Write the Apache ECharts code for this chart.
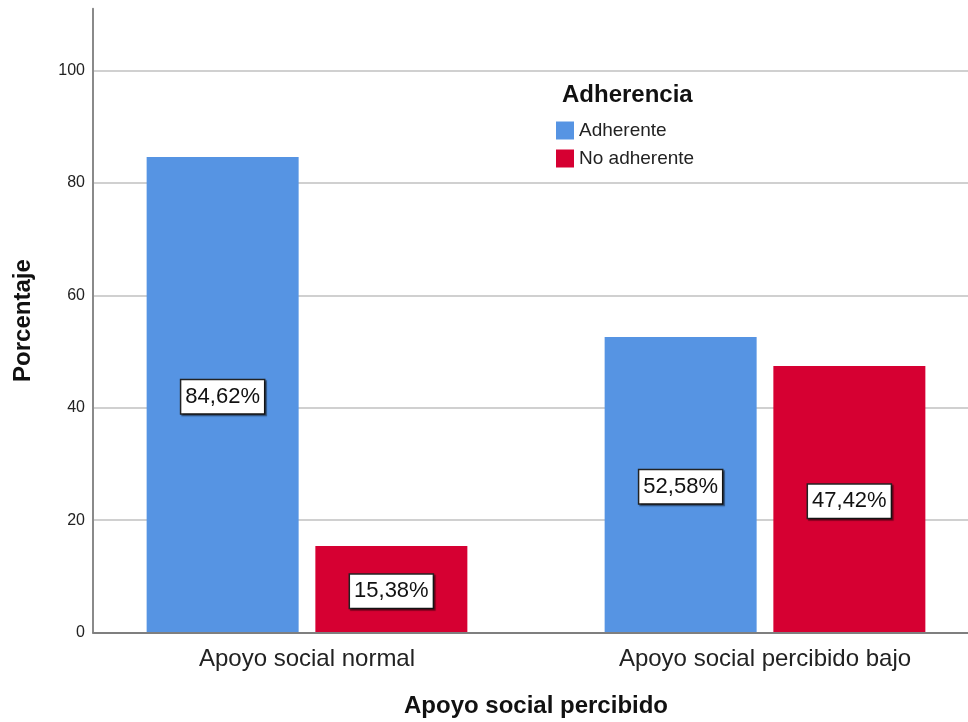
<!DOCTYPE html>
<html>
<head>
<meta charset="utf-8">
<script src="https://cdn.jsdelivr.net/npm/echarts@6/dist/echarts.min.js"></script>
<style>html,body{margin:0;padding:0;background:#fff}#c{width:968px;height:722px}</style>
</head>
<body>
<div id="c"></div>
<script>
var categories = ['Apoyo social normal', 'Apoyo social percibido bajo'];
var seriesNames = ['Adherente', 'No adherente'];
var adherente = [84.62, 52.58];
var noAdherente = [15.38, 47.42];
var yTicks = [0, 20, 40, 60, 80, 100];

var FONT = '"Liberation Sans", Arial, sans-serif';
var chart = echarts.init(document.getElementById('c'));
function fmt(p) { return p.value.toFixed(2).replace('.', ',') + '%'; }
var labelStyle = {
  show: true, position: 'inside', formatter: fmt,
  fontFamily: FONT, fontSize: 22, color: '#111',
  backgroundColor: '#fff', borderColor: '#222', borderWidth: 1.5,
  padding: [6, 4, 5, 4], offset: [0, 2],
  shadowColor: 'rgba(0,0,0,0.45)', shadowOffsetX: 1.5, shadowOffsetY: 1.5, shadowBlur: 1
};
chart.setOption({
  animation: false,
  backgroundColor: '#fff',
  title: {
    text: 'Adherencia', left: 562, top: 83, padding: 0,
    textStyle: { fontFamily: FONT, fontSize: 24, fontWeight: 'bold', color: '#111' }
  },
  legend: {
    data: seriesNames, orient: 'vertical', left: 556, top: 121, padding: 0,
    itemWidth: 18, itemHeight: 18, itemGap: 9, icon: 'rect',
    textStyle: { fontFamily: FONT, fontSize: 19, color: '#222' }
  },
  grid: [
    { left: 93, width: 900, top: 70.5, bottom: 89.5, outerBoundsMode: 'none', containLabel: false },
    { left: 93, width: 900, top: 8.7, bottom: 89.5, outerBoundsMode: 'none', containLabel: false },
    { left: 78, width: 916, top: 8.7, bottom: 89.5, outerBoundsMode: 'none', containLabel: false }
  ],
  xAxis: [
    { gridIndex: 0, type: 'value', min: 0, max: 1, show: false },
    { gridIndex: 1, type: 'value', min: 0, max: 1, z: 10,
      axisLine: { show: true, lineStyle: { color: '#7f7f7f', width: 2 } },
      axisTick: { show: false }, axisLabel: { show: false }, splitLine: { show: false } },
    { gridIndex: 2, type: 'category', data: categories,
      axisLine: { show: false }, axisTick: { show: false },
      axisLabel: { margin: 15, fontFamily: FONT, fontSize: 24, color: '#222' },
      name: 'Apoyo social percibido', nameLocation: 'middle', nameGap: 62,
      nameTextStyle: { fontFamily: FONT, fontSize: 24, fontWeight: 'bold', color: '#111' } }
  ],
  yAxis: [
    { gridIndex: 0, type: 'value', min: yTicks[0], max: yTicks[yTicks.length - 1], interval: 20,
      axisLine: { show: false }, axisTick: { show: false },
      axisLabel: { margin: 8, fontFamily: FONT, fontSize: 16, color: '#222' },
      splitLine: { show: true, lineStyle: { color: '#d0d0d0', width: 2 } } },
    { gridIndex: 1, type: 'value', min: 0, max: 111, z: 10,
      axisLine: { show: true, lineStyle: { color: '#8a8a8a', width: 2 } },
      axisTick: { show: false }, axisLabel: { show: false }, splitLine: { show: false },
      name: 'Porcentaje', nameLocation: 'middle', nameGap: 58, nameRotate: 90,
      nameTextStyle: { fontFamily: FONT, fontSize: 24, fontWeight: 'bold', color: '#111' } },
    { gridIndex: 2, type: 'value', min: 0, max: 111, show: false, splitLine: { show: false } }
  ],
  series: [
    { name: seriesNames[0], type: 'bar', xAxisIndex: 2, yAxisIndex: 2, data: adherente,
      barWidth: 152, barGap: '11%', itemStyle: { color: '#5694E3' }, label: labelStyle },
    { name: seriesNames[1], type: 'bar', xAxisIndex: 2, yAxisIndex: 2, data: noAdherente,
      barWidth: 152, barGap: '11%', itemStyle: { color: '#D60032' }, label: labelStyle }
  ]
});
</script>
</body>
</html>
